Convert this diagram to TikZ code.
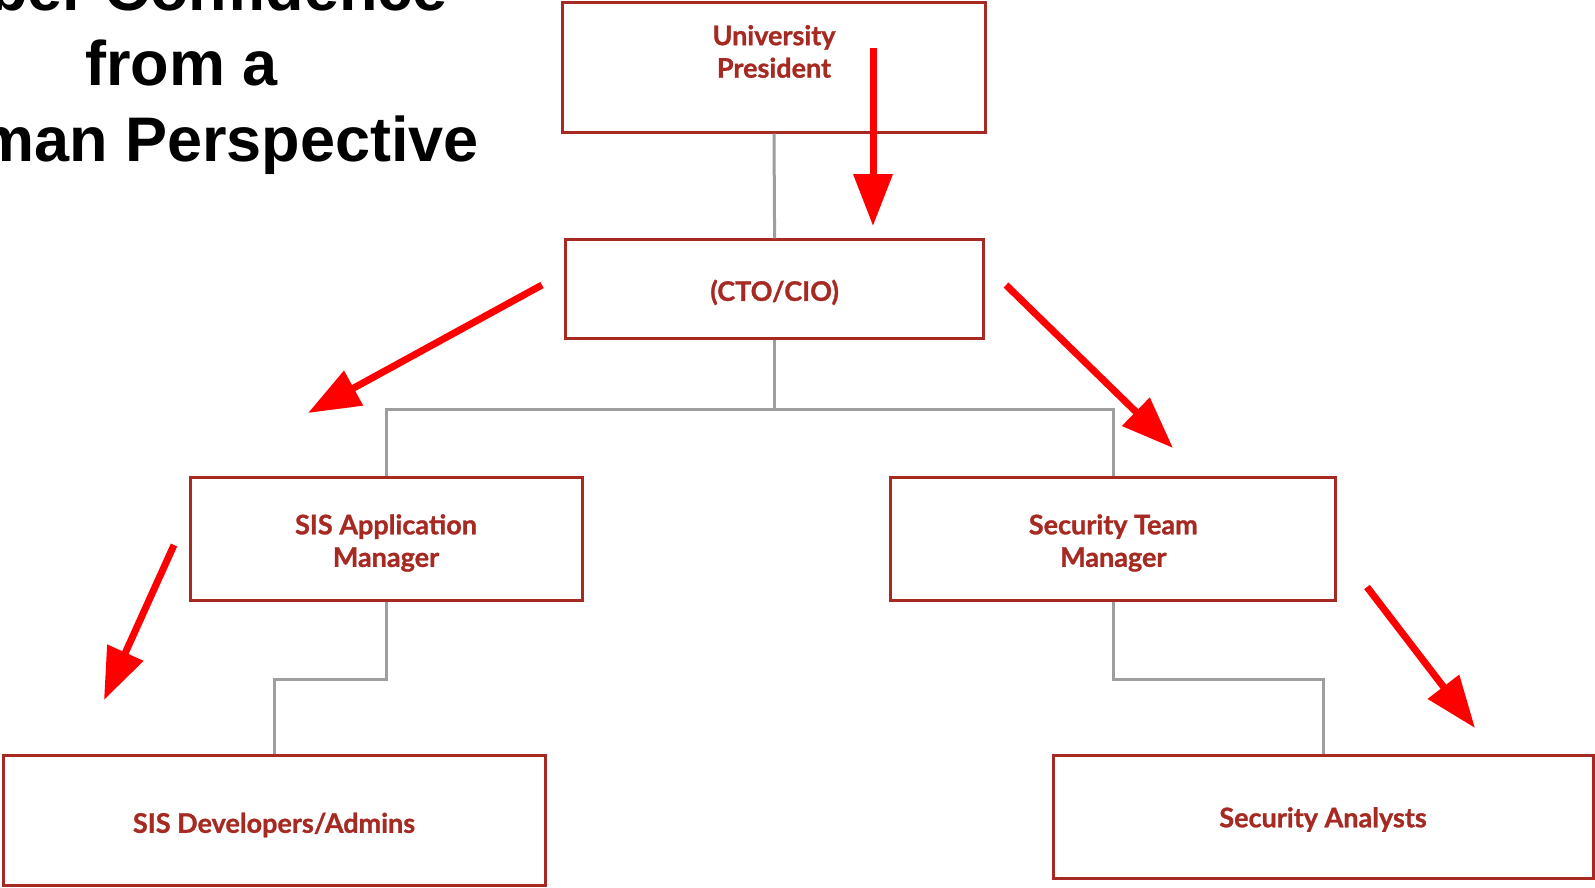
\documentclass[tikz,border=0pt]{standalone}
\usepackage{fontspec}
\setmainfont{Liberation Sans}
\newfontfamily\boxfont{Lato}[BoldFeatures={FakeBold=1}]
\usetikzlibrary{arrows.meta}
\definecolor{boxred}{RGB}{166,41,34}
\definecolor{conngray}{RGB}{158,158,158}
\definecolor{arrred}{RGB}{255,0,0}
\begin{document}
\begin{tikzpicture}[x=1pt,y=-1pt,
  box/.style={draw=boxred, line width=3pt, rectangle, inner sep=0pt},
  txt/.style={text=boxred, inner sep=0pt, align=center,
    font=\boxfont\bfseries\fontsize{27}{32.5}\selectfont},
  conn/.style={draw=conngray, line width=3pt},
  redarrow/.style={draw=arrred, line width=7pt, -{Triangle[length=52pt,width=38pt]}},
  titletxt/.style={font=\bfseries\fontsize{63}{72}\selectfont, inner sep=0pt}]
\useasboundingbox (0,0) rectangle (1595,887);
\clip (0,0) rectangle (1595,887);
\fill[white] (0,0) rectangle (1595,887);

% title
\node[titletxt, anchor=base east] (t1) at (448,10) {ber Confidence};
\node[titletxt, anchor=base] (t2) at (181.5,85) {from a};
\node[titletxt, anchor=base east] (t3) at (479,161) {man Perspective};

% boxes
\node[box, minimum width=423pt, minimum height=130pt] (up) at (774,67) {};
\node[box, minimum width=418pt, minimum height=99pt] (cto) at (774.6,289.4) {};
\node[box, minimum width=392pt, minimum height=123pt] (sisapp) at (386,538.5) {};
\node[box, minimum width=445pt, minimum height=123pt] (secteam) at (1113.3,538.5) {};
\node[box, minimum width=542pt, minimum height=130pt] (sisdev) at (274,820) {};
\node[box, minimum width=540pt, minimum height=123pt] (secan) at (1323,816.5) {};

% box texts
\node[txt] (upt) at ([yshift=15.5pt]up.center) {University\\President};
\node[txt] (ctot) at ([yshift=-3pt]cto.center) {(CTO/CIO)};
\node[txt] (sisappt) at ([yshift=-4.5pt]sisapp.center) {SIS Application\\Manager};
\node[txt] (secteamt) at ([yshift=-4.5pt]secteam.center) {Security Team\\Manager};
\node[txt] (sisdevt) at ([yshift=-5pt]sisdev.center) {SIS Developers/Admins};
\node[txt] (secant) at ([yshift=-3pt]secan.center) {Security Analysts};

% connectors
\draw[conn] (up.south) -- (cto.north);
\draw[conn] (cto.south) -- ++(0,69) -| (sisapp.north);
\draw[conn] (cto.south) -- ++(0,69) -| (secteam.north);
\draw[conn] (sisapp.south) -- ++(0,77.5) -| (sisdev.north);
\draw[conn] (secteam.south) -- ++(0,77.5) -| (secan.north);

% red arrows
\coordinate (a1s) at (873,48);   \coordinate (a1e) at (873,226);
\coordinate (a2s) at (542,285);  \coordinate (a2e) at (308,413);
\coordinate (a3s) at (1006,285); \coordinate (a3e) at (1173,448);
\coordinate (a4s) at (174,545);  \coordinate (a4e) at (104,700);
\coordinate (a5s) at (1367,587); \coordinate (a5e) at (1475,728);
\draw[redarrow] (a1s) -- (a1e);
\draw[redarrow] (a2s) -- (a2e);
\draw[redarrow] (a3s) -- (a3e);
\draw[redarrow] (a4s) -- (a4e);
\draw[redarrow] (a5s) -- (a5e);
\end{tikzpicture}
\end{document}
